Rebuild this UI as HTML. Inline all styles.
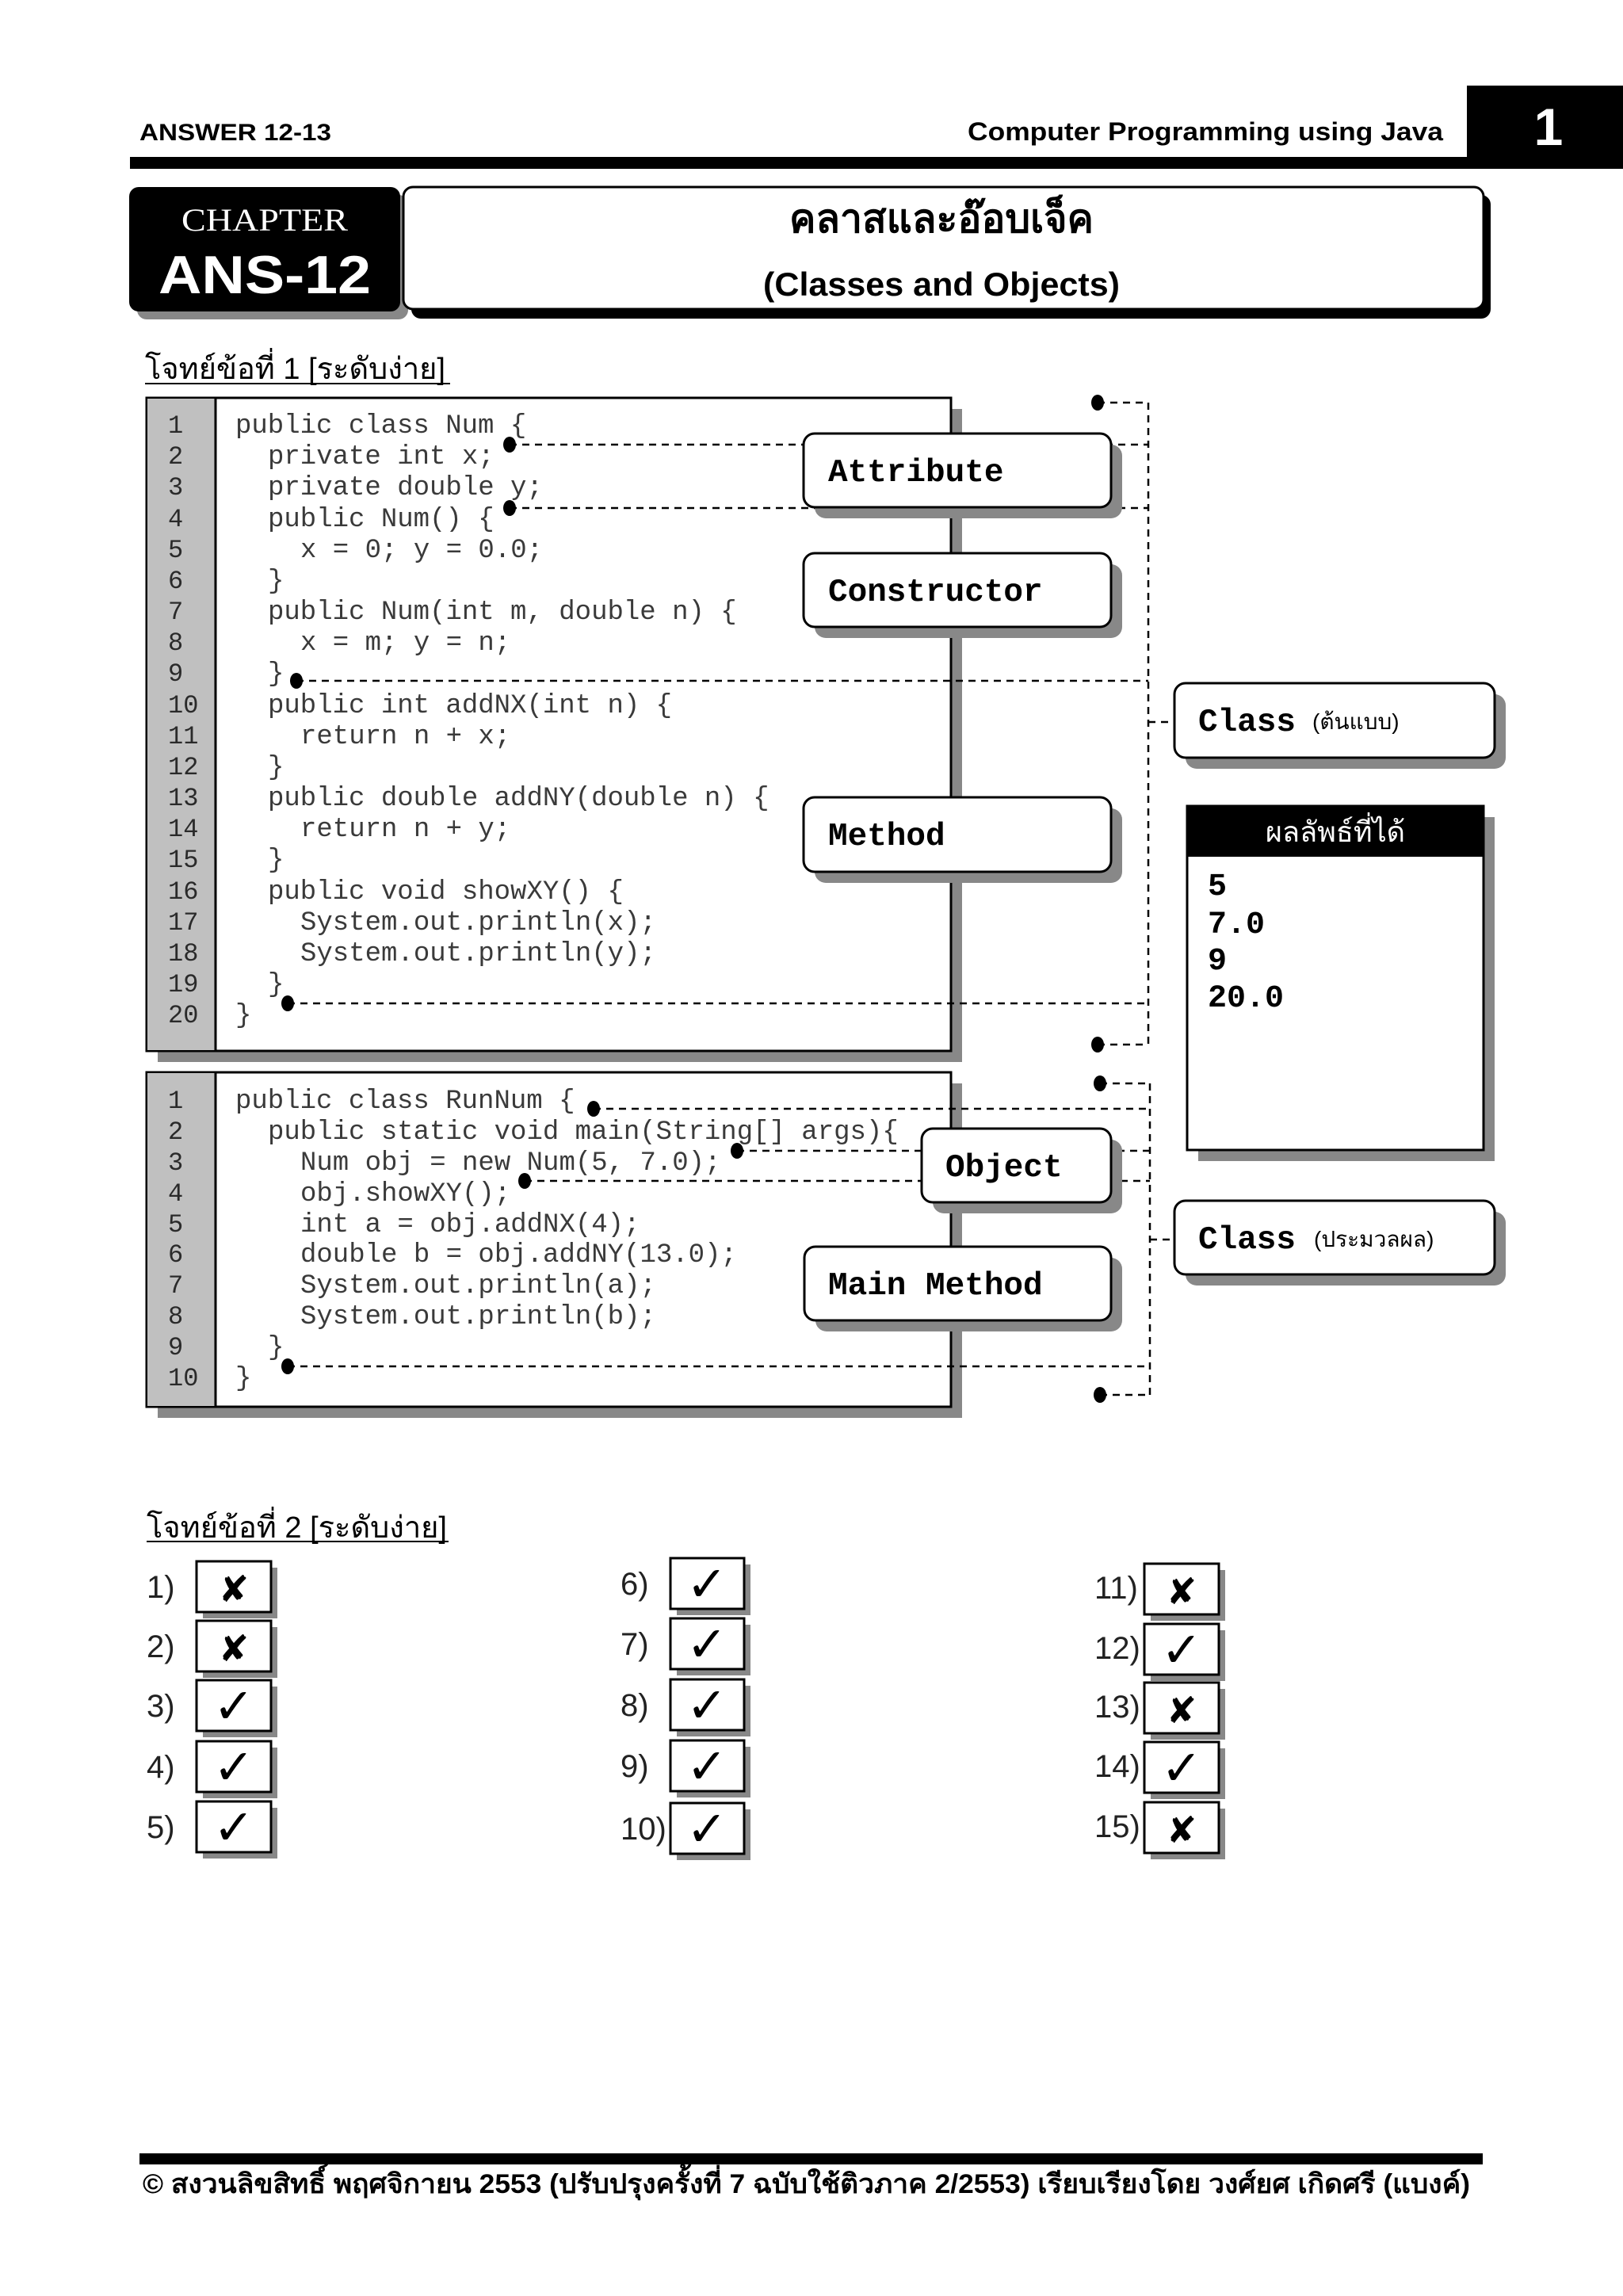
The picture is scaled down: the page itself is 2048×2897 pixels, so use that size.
<!DOCTYPE html>
<html><head><meta charset="utf-8">
<style>
html,body{margin:0;padding:0;background:#fff;}
svg{display:block;}
.code{font-family:"Liberation Mono",monospace;font-size:34px;fill:#3a3a3a;}
.ln{font-family:"Liberation Mono",monospace;font-size:32px;fill:#2a2a2a;}
.lab{font-family:"Liberation Mono",monospace;font-size:41px;font-weight:bold;fill:#000;}
.th{font-family:"Liberation Sans Narrow","Liberation Sans","Noto Sans CJK SC","DejaVu Sans",sans-serif;}
.num{font-family:"Liberation Sans Narrow","Liberation Sans",sans-serif;font-size:40px;fill:#222;}
.mk{font-family:"DejaVu Sans",sans-serif;fill:#000;}
</style></head>
<body>
<svg width="2048" height="2897" viewBox="0 0 2048 2897" xmlns="http://www.w3.org/2000/svg">
<text x="176" y="177" class="th" font-size="30" font-weight="bold" textLength="242" lengthAdjust="spacingAndGlyphs">ANSWER 12-13</text>
<text x="1221" y="177" class="th" font-size="32" font-weight="bold" textLength="600" lengthAdjust="spacingAndGlyphs">Computer Programming using Java</text>
<rect x="164" y="198" width="1690" height="15" fill="#000"/>
<rect x="1851" y="108" width="197" height="105" fill="#000"/>
<text x="1954" y="183" text-anchor="middle" font-family="Liberation Sans Narrow,Liberation Sans,sans-serif" font-size="66" font-weight="bold" fill="#fff">1</text>

<rect x="173" y="246" width="342" height="157" rx="12" fill="#888"/>
<rect x="163" y="236" width="342" height="157" rx="12" fill="#000"/>
<text x="334" y="291" text-anchor="middle" font-family="Liberation Serif,serif" font-size="40" fill="#fff" textLength="210" lengthAdjust="spacingAndGlyphs">CHAPTER</text>
<text x="334" y="370" text-anchor="middle" font-family="Liberation Sans,sans-serif" font-size="68" font-weight="bold" fill="#fff" textLength="268" lengthAdjust="spacingAndGlyphs">ANS-12</text>
<rect x="519" y="246" width="1362" height="156" rx="12" fill="#000"/>
<rect x="509" y="236" width="1363" height="154" rx="12" fill="#fff" stroke="#000" stroke-width="3"/>
<text x="1188" y="293" text-anchor="middle" class="th" font-size="50" font-weight="bold" fill="#000">คลาสและอ๊อบเจ็ค</text>
<text x="1188" y="373" text-anchor="middle" class="th" font-size="42" font-weight="bold" fill="#000" textLength="450" lengthAdjust="spacingAndGlyphs">(Classes and Objects)</text>

<text x="183" y="478" class="th" font-size="38" fill="#000">โจทย์ข้อที่ 1 [ระดับง่าย]</text>
<line x1="183" y1="484" x2="568" y2="484" stroke="#000" stroke-width="2"/>

<rect x="199" y="516" width="1015" height="824" fill="#888"/>
<rect x="185" y="502" width="1015" height="824" fill="#fff" stroke="#000" stroke-width="3"/>
<rect x="186" y="503" width="86" height="822" fill="#c0c0c0"/>
<line x1="272" y1="502" x2="272" y2="1326" stroke="#000" stroke-width="3"/>
<g class="ln">
<text x="212" y="546">1</text><text x="212" y="585">2</text><text x="212" y="624">3</text><text x="212" y="664">4</text><text x="212" y="703">5</text><text x="212" y="742">6</text><text x="212" y="781">7</text><text x="212" y="820">8</text><text x="212" y="859">9</text><text x="212" y="899">10</text><text x="212" y="938">11</text><text x="212" y="977">12</text><text x="212" y="1016">13</text><text x="212" y="1055">14</text><text x="212" y="1094">15</text><text x="212" y="1134">16</text><text x="212" y="1173">17</text><text x="212" y="1212">18</text><text x="212" y="1251">19</text><text x="212" y="1290">20</text>
</g>
<g class="code" xml:space="preserve">
<text x="297" y="546">public class Num {</text>
<text x="338" y="585">private int x;</text>
<text x="338" y="624">private double y;</text>
<text x="338" y="664">public Num() {</text>
<text x="379" y="703">x = 0; y = 0.0;</text>
<text x="338" y="742">}</text>
<text x="338" y="781">public Num(int m, double n) {</text>
<text x="379" y="820">x = m; y = n;</text>
<text x="338" y="859">}</text>
<text x="338" y="899">public int addNX(int n) {</text>
<text x="379" y="938">return n + x;</text>
<text x="338" y="977">}</text>
<text x="338" y="1016">public double addNY(double n) {</text>
<text x="379" y="1055">return n + y;</text>
<text x="338" y="1094">}</text>
<text x="338" y="1134">public void showXY() {</text>
<text x="379" y="1173">System.out.println(x);</text>
<text x="379" y="1212">System.out.println(y);</text>
<text x="338" y="1251">}</text>
<text x="297" y="1290">}</text>
</g>

<rect x="199" y="1367" width="1015" height="422" fill="#888"/>
<rect x="185" y="1353" width="1015" height="422" fill="#fff" stroke="#000" stroke-width="3"/>
<rect x="186" y="1354" width="86" height="420" fill="#c0c0c0"/>
<line x1="272" y1="1353" x2="272" y2="1775" stroke="#000" stroke-width="3"/>
<g class="ln">
<text x="212" y="1398">1</text><text x="212" y="1437">2</text><text x="212" y="1476">3</text><text x="212" y="1515">4</text><text x="212" y="1554">5</text><text x="212" y="1592">6</text><text x="212" y="1631">7</text><text x="212" y="1670">8</text><text x="212" y="1709">9</text><text x="212" y="1748">10</text>
</g>
<g class="code" xml:space="preserve">
<text x="297" y="1398">public class RunNum {</text>
<text x="338" y="1437">public static void main(String[] args){</text>
<text x="379" y="1476">Num obj = new Num(5, 7.0);</text>
<text x="379" y="1515">obj.showXY();</text>
<text x="379" y="1554">int a = obj.addNX(4);</text>
<text x="379" y="1592">double b = obj.addNY(13.0);</text>
<text x="379" y="1631">System.out.println(a);</text>
<text x="379" y="1670">System.out.println(b);</text>
<text x="338" y="1709">}</text>
<text x="297" y="1748">}</text>
</g>

<g stroke="#000" stroke-width="2.5" stroke-dasharray="9,7" fill="none">
<line x1="1385" y1="508" x2="1449" y2="508"/>
<line x1="643" y1="561" x2="1449" y2="561"/>
<line x1="643" y1="641" x2="1449" y2="641"/>
<line x1="374" y1="859" x2="1449" y2="859"/>
<line x1="363" y1="1266" x2="1449" y2="1266"/>
<line x1="1385" y1="1318" x2="1449" y2="1318"/>
<line x1="1449" y1="508" x2="1449" y2="1318"/>
<line x1="1449" y1="911" x2="1482" y2="911"/>
<line x1="1388" y1="1367" x2="1451" y2="1367"/>
<line x1="749" y1="1399" x2="1451" y2="1399"/>
<line x1="930" y1="1452" x2="1451" y2="1452"/>
<line x1="662" y1="1490" x2="1451" y2="1490"/>
<line x1="363" y1="1724" x2="1451" y2="1724"/>
<line x1="1388" y1="1760" x2="1451" y2="1760"/>
<line x1="1451" y1="1367" x2="1451" y2="1760"/>
<line x1="1451" y1="1564" x2="1482" y2="1564"/>
</g>
<g fill="#000">
<ellipse cx="1385" cy="508" rx="8" ry="10"/>
<ellipse cx="643" cy="561" rx="8" ry="10"/>
<ellipse cx="643" cy="641" rx="8" ry="10"/>
<ellipse cx="374" cy="859" rx="8" ry="10"/>
<ellipse cx="363" cy="1266" rx="8" ry="10"/>
<ellipse cx="1385" cy="1318" rx="8" ry="10"/>
<ellipse cx="1388" cy="1367" rx="8" ry="10"/>
<ellipse cx="749" cy="1399" rx="8" ry="10"/>
<ellipse cx="930" cy="1452" rx="8" ry="10"/>
<ellipse cx="662" cy="1490" rx="8" ry="10"/>
<ellipse cx="363" cy="1724" rx="8" ry="10"/>
<ellipse cx="1388" cy="1760" rx="8" ry="10"/>
</g>

<g>
<rect x="1028" y="561" width="388" height="93" rx="14" fill="#888"/>
<rect x="1014" y="547" width="388" height="93" rx="14" fill="#fff" stroke="#000" stroke-width="3"/>
<text x="1045" y="607" class="lab">Attribute</text>

<rect x="1028" y="712" width="388" height="93" rx="14" fill="#888"/>
<rect x="1014" y="698" width="388" height="93" rx="14" fill="#fff" stroke="#000" stroke-width="3"/>
<text x="1045" y="758" class="lab">Constructor</text>

<rect x="1028" y="1020" width="388" height="94" rx="14" fill="#888"/>
<rect x="1014" y="1006" width="388" height="94" rx="14" fill="#fff" stroke="#000" stroke-width="3"/>
<text x="1045" y="1066" class="lab">Method</text>

<rect x="1177" y="1438" width="239" height="93" rx="14" fill="#888"/>
<rect x="1163" y="1424" width="239" height="93" rx="14" fill="#fff" stroke="#000" stroke-width="3"/>
<text x="1193" y="1484" class="lab">Object</text>

<rect x="1029" y="1587" width="387" height="93" rx="14" fill="#888"/>
<rect x="1015" y="1573" width="387" height="93" rx="14" fill="#fff" stroke="#000" stroke-width="3"/>
<text x="1045" y="1633" class="lab">Main Method</text>

<rect x="1496" y="876" width="404" height="94" rx="14" fill="#888"/>
<rect x="1482" y="862" width="404" height="94" rx="14" fill="#fff" stroke="#000" stroke-width="3"/>
<text x="1512" y="922" class="lab">Class</text>
<text x="1656" y="920" class="th" font-size="28" fill="#000">(ต้นแบบ)</text>

<rect x="1496" y="1529" width="404" height="93" rx="14" fill="#888"/>
<rect x="1482" y="1515" width="404" height="93" rx="14" fill="#fff" stroke="#000" stroke-width="3"/>
<text x="1512" y="1575" class="lab">Class</text>
<text x="1658" y="1573" class="th" font-size="28" fill="#000">(ประมวลผล)</text>
</g>

<rect x="1512" y="1031" width="374" height="434" fill="#888"/>
<rect x="1498" y="1017" width="374" height="434" fill="#fff" stroke="#000" stroke-width="3"/>
<rect x="1498" y="1017" width="374" height="64" fill="#000"/>
<text x="1685" y="1062" text-anchor="middle" class="th" font-size="36" fill="#fff">ผลลัพธ์ที่ได้</text>
<g font-family="Liberation Mono,monospace" font-size="40" font-weight="bold" fill="#000">
<text x="1524" y="1129">5</text>
<text x="1524" y="1177">7.0</text>
<text x="1524" y="1223">9</text>
<text x="1524" y="1270">20.0</text>
</g>

<text x="185" y="1940" class="th" font-size="38" fill="#000">โจทย์ข้อที่ 2 [ระดับง่าย]</text>
<line x1="185" y1="1945" x2="566" y2="1945" stroke="#000" stroke-width="2"/>

<g>
<text x="185" y="2016" class="num">1)</text>
<rect x="256" y="1978" width="94" height="64" fill="#888"/><rect x="248" y="1970" width="94" height="64" fill="#fff" stroke="#000" stroke-width="3"/>
<text x="295" y="2021" text-anchor="middle" class="mk" font-size="46">✘</text>
<text x="185" y="2091" class="num">2)</text>
<rect x="256" y="2053" width="94" height="64" fill="#888"/><rect x="248" y="2045" width="94" height="64" fill="#fff" stroke="#000" stroke-width="3"/>
<text x="295" y="2096" text-anchor="middle" class="mk" font-size="46">✘</text>
<text x="185" y="2166" class="num">3)</text>
<rect x="256" y="2128" width="94" height="64" fill="#888"/><rect x="248" y="2120" width="94" height="64" fill="#fff" stroke="#000" stroke-width="3"/>
<text x="295" y="2174" text-anchor="middle" class="mk" font-size="62" font-weight="bold">✓</text>
<text x="185" y="2243" class="num">4)</text>
<rect x="256" y="2205" width="94" height="64" fill="#888"/><rect x="248" y="2197" width="94" height="64" fill="#fff" stroke="#000" stroke-width="3"/>
<text x="295" y="2251" text-anchor="middle" class="mk" font-size="62" font-weight="bold">✓</text>
<text x="185" y="2319" class="num">5)</text>
<rect x="256" y="2281" width="94" height="64" fill="#888"/><rect x="248" y="2273" width="94" height="64" fill="#fff" stroke="#000" stroke-width="3"/>
<text x="295" y="2327" text-anchor="middle" class="mk" font-size="62" font-weight="bold">✓</text>

<text x="783" y="2012" class="num">6)</text>
<rect x="854" y="1974" width="93" height="64" fill="#888"/><rect x="846" y="1966" width="93" height="64" fill="#fff" stroke="#000" stroke-width="3"/>
<text x="892" y="2020" text-anchor="middle" class="mk" font-size="62" font-weight="bold">✓</text>
<text x="783" y="2088" class="num">7)</text>
<rect x="854" y="2050" width="93" height="64" fill="#888"/><rect x="846" y="2042" width="93" height="64" fill="#fff" stroke="#000" stroke-width="3"/>
<text x="892" y="2096" text-anchor="middle" class="mk" font-size="62" font-weight="bold">✓</text>
<text x="783" y="2165" class="num">8)</text>
<rect x="854" y="2127" width="93" height="64" fill="#888"/><rect x="846" y="2119" width="93" height="64" fill="#fff" stroke="#000" stroke-width="3"/>
<text x="892" y="2173" text-anchor="middle" class="mk" font-size="62" font-weight="bold">✓</text>
<text x="783" y="2242" class="num">9)</text>
<rect x="854" y="2204" width="93" height="64" fill="#888"/><rect x="846" y="2196" width="93" height="64" fill="#fff" stroke="#000" stroke-width="3"/>
<text x="892" y="2250" text-anchor="middle" class="mk" font-size="62" font-weight="bold">✓</text>
<text x="783" y="2321" class="num">10)</text>
<rect x="854" y="2283" width="93" height="64" fill="#888"/><rect x="846" y="2275" width="93" height="64" fill="#fff" stroke="#000" stroke-width="3"/>
<text x="892" y="2329" text-anchor="middle" class="mk" font-size="62" font-weight="bold">✓</text>

<text x="1381" y="2017" class="num">11)</text>
<rect x="1452" y="1981" width="94" height="64" fill="#888"/><rect x="1444" y="1973" width="94" height="64" fill="#fff" stroke="#000" stroke-width="3"/>
<text x="1491" y="2024" text-anchor="middle" class="mk" font-size="46">✘</text>
<text x="1381" y="2093" class="num">12)</text>
<rect x="1452" y="2057" width="94" height="64" fill="#888"/><rect x="1444" y="2049" width="94" height="64" fill="#fff" stroke="#000" stroke-width="3"/>
<text x="1491" y="2103" text-anchor="middle" class="mk" font-size="62" font-weight="bold">✓</text>
<text x="1381" y="2167" class="num">13)</text>
<rect x="1452" y="2131" width="94" height="64" fill="#888"/><rect x="1444" y="2123" width="94" height="64" fill="#fff" stroke="#000" stroke-width="3"/>
<text x="1491" y="2174" text-anchor="middle" class="mk" font-size="46">✘</text>
<text x="1381" y="2242" class="num">14)</text>
<rect x="1452" y="2206" width="94" height="64" fill="#888"/><rect x="1444" y="2198" width="94" height="64" fill="#fff" stroke="#000" stroke-width="3"/>
<text x="1491" y="2252" text-anchor="middle" class="mk" font-size="62" font-weight="bold">✓</text>
<text x="1381" y="2318" class="num">15)</text>
<rect x="1452" y="2282" width="94" height="64" fill="#888"/><rect x="1444" y="2274" width="94" height="64" fill="#fff" stroke="#000" stroke-width="3"/>
<text x="1491" y="2325" text-anchor="middle" class="mk" font-size="46">✘</text>
</g>

<rect x="176" y="2717" width="1695" height="14" fill="#000"/>
<text x="180" y="2767" class="th" font-size="34" font-weight="bold" fill="#000" textLength="1675" lengthAdjust="spacingAndGlyphs">© สงวนลิขสิทธิ์ พฤศจิกายน 2553 (ปรับปรุงครั้งที่ 7 ฉบับใช้ติวภาค 2/2553)   เรียบเรียงโดย วงศ์ยศ เกิดศรี (แบงค์)</text>
</svg>
</body></html>
